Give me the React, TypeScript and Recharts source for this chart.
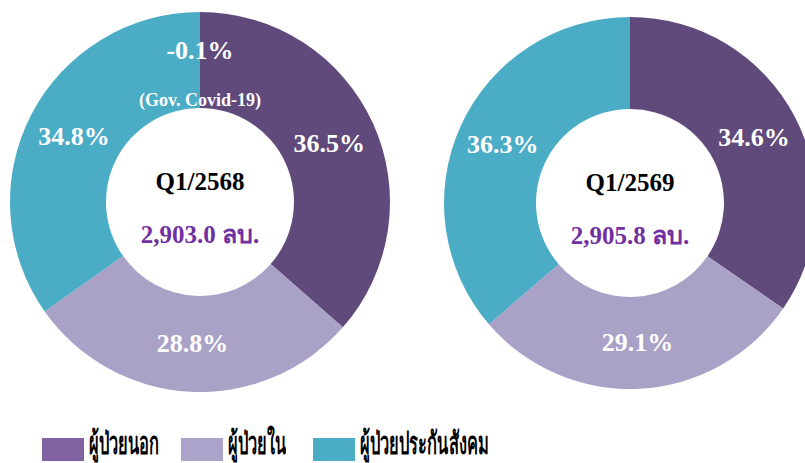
import { Legend, Pie, PieChart, Cell } from "recharts";

const categories = ["ผู้ป่วยนอก", "ผู้ป่วยใน", "ผู้ป่วยประกันสังคม", "Gov. Covid-19"];
const sharesQ1_2568 = [36.5, 28.8, 34.8, -0.1];
const sharesQ1_2569 = [34.6, 29.1, 36.3];
const periods = ["Q1/2568", "Q1/2569"];
const totals = ["2,903.0 ลบ.", "2,905.8 ลบ."];

const sliceColors = ["#604a7b", "#aaa1c7", "#4bacc6", "#c8c8c8"];
const legendColors = ["#8064a2", "#aba3c9", "#4bacc6"];

const RADIAN = Math.PI / 180;
const SERIF = "'Liberation Serif', 'Times New Roman', serif";

const toData = (shares: number[]) =>
	shares.map((v, i) => ({ name: categories[i], value: Math.max(v, 0), share: v }));

const left = toData(sharesQ1_2568);
const right = toData(sharesQ1_2569);

// slice labels + the centre text (drawn once, with the first slice)
const makeLabel = (idx: number) => (props: any) => {
	const { cx, cy, midAngle, innerRadius, outerRadius, payload, index } = props;
	const share = payload.share;
	const center =
		index === 0 ? (
			<g fontFamily={SERIF} fontWeight="bold" textAnchor="middle">
				<text x={cx} y={cy - 12} fontSize={25} fill="#000">
					{periods[idx]}
				</text>
				<text x={cx} y={cy + 41} fontSize={25} fill="#7030a0">
					{totals[idx]}
				</text>
			</g>
		) : null;
	if (share < 0) {
		return (
			<g fontFamily={SERIF} fontWeight="bold" fill="#fff" textAnchor="middle">
				<text x={cx} y={cy - 152} dominantBaseline="central" fontSize={26}>
					{`${share.toFixed(1)}%`}
				</text>
				<text x={cx} y={cy - (innerRadius + 8)} dominantBaseline="central" fontSize={18}>
					{`(${payload.name})`}
				</text>
			</g>
		);
	}
	const r = (innerRadius + outerRadius) / 2;
	const x = cx + r * Math.cos(-midAngle * RADIAN);
	const y = cy + r * Math.sin(-midAngle * RADIAN);
	return (
		<g>
			{center}
			<text
				x={x}
				y={y}
				fill="#fff"
				textAnchor="middle"
				dominantBaseline="central"
				fontFamily={SERIF}
				fontWeight="bold"
				fontSize={26}
			>
				{`${share.toFixed(1)}%`}
			</text>
		</g>
	);
};

function LegendBox() {
	const lefts = [42, 181, 313];
	return (
		<div style={{ position: "relative", width: 805, height: 43 }}>
			{categories.slice(0, 3).map((name, i) => (
				<div
					key={name}
					style={{ position: "absolute", left: lefts[i], top: 0, display: "flex", alignItems: "flex-end" }}
				>
					<div style={{ width: 42, height: 23, background: legendColors[i], marginTop: 18 }} />
					<span
						style={{
							marginLeft: 5,
							fontSize: 31,
							fontWeight: "bold",
							lineHeight: "34px",
							color: "#000",
							display: "inline-block",
							transform: "scaleX(0.53)",
							transformOrigin: "left bottom",
							whiteSpace: "nowrap",
						}}
					>
						{name}
					</span>
				</div>
			))}
		</div>
	);
}

export default function App() {
	return (
		<div style={{ position: "absolute", left: 0, top: 0, width: 805, height: 463, background: "#fff" }}>
			<PieChart width={805} height={463} margin={{ top: 0, right: 0, bottom: 0, left: 0 }}>
				<Pie
					data={left}
					dataKey="value"
					cx={200}
					cy={202}
					innerRadius={94}
					outerRadius={190}
					startAngle={90}
					endAngle={-270}
					stroke="none"
					label={makeLabel(0)}
					labelLine={false}
					isAnimationActive={false}
				>
					{left.map((d, i) => (
						<Cell key={d.name} fill={sliceColors[i]} />
					))}
				</Pie>
				<Pie
					data={right}
					dataKey="value"
					cx={630}
					cy={203}
					innerRadius={94}
					outerRadius={186}
					startAngle={90}
					endAngle={-270}
					stroke="none"
					label={makeLabel(1)}
					labelLine={false}
					isAnimationActive={false}
				>
					{right.map((d, i) => (
						<Cell key={d.name} fill={sliceColors[i]} />
					))}
				</Pie>
				<Legend
					content={() => <LegendBox />}
					wrapperStyle={{ position: "absolute", left: 0, top: 420, width: 805, height: 43 }}
				/>
			</PieChart>
		</div>
	);
}
